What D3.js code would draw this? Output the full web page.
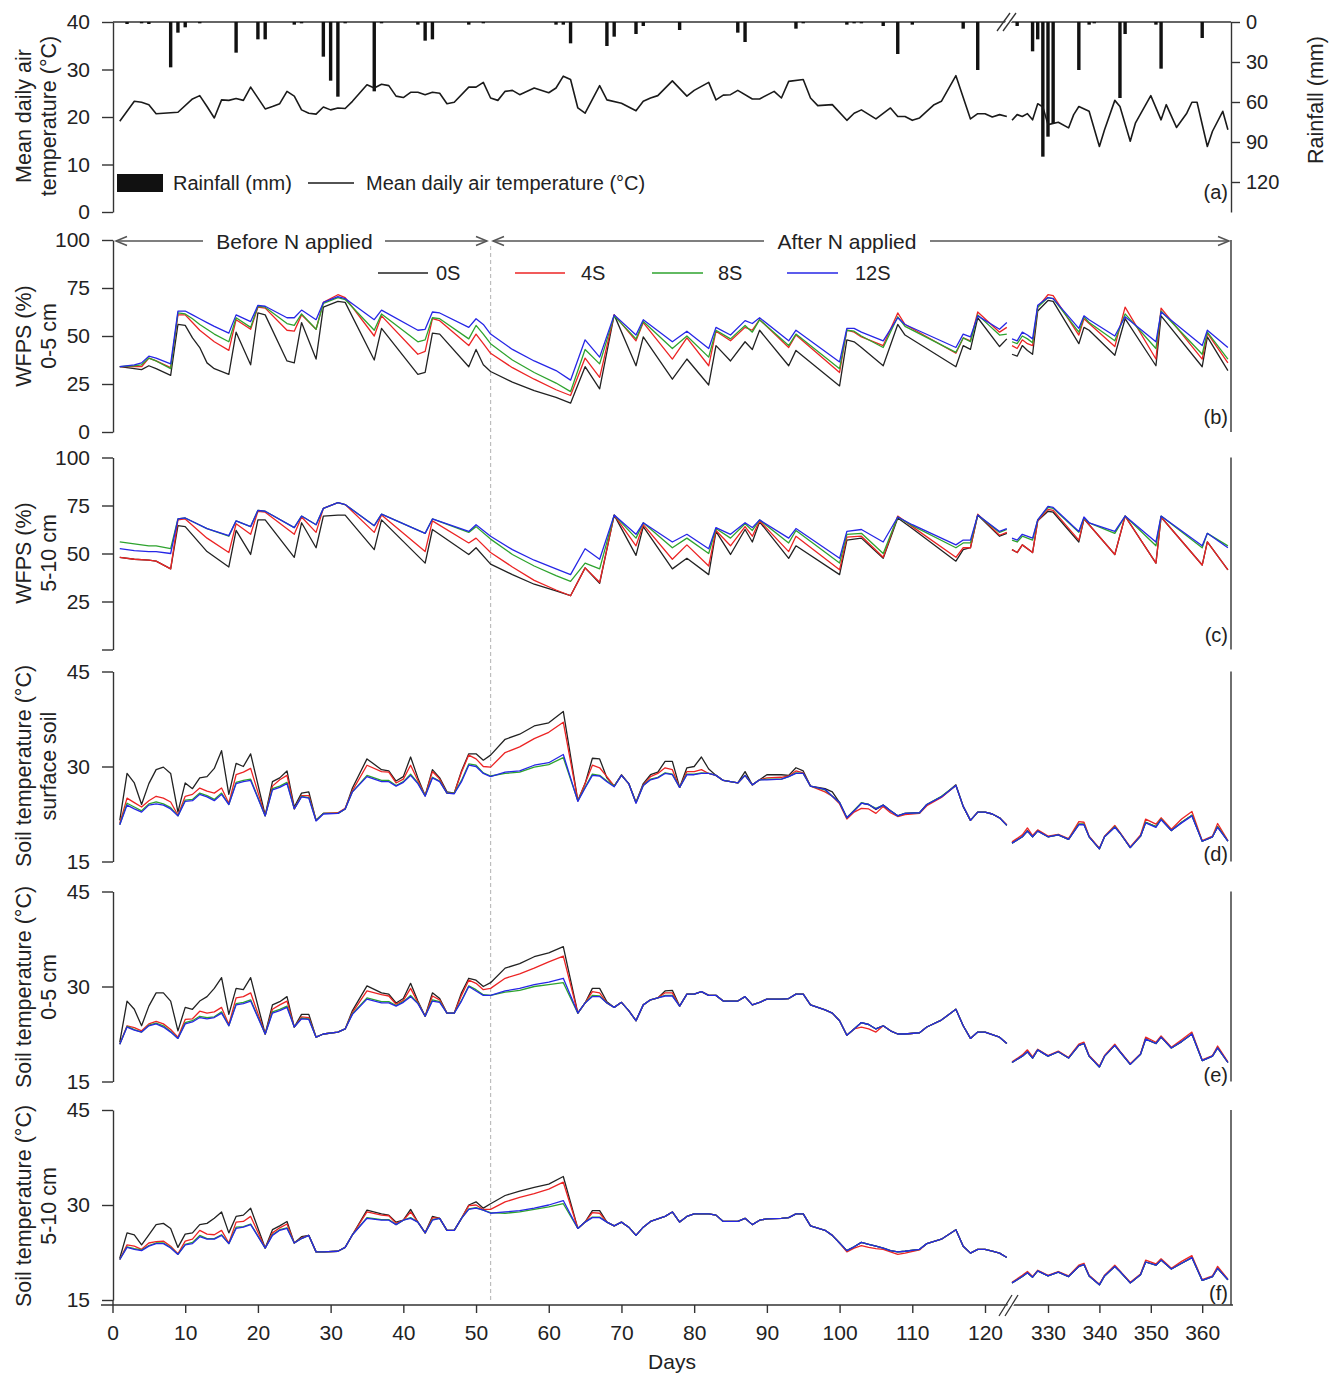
<!DOCTYPE html>
<html><head><meta charset="utf-8">
<script src="https://cdn.jsdelivr.net/npm/d3@7"></script>
<style>body{margin:0;background:#fff}</style>
</head><body>
<svg id="c" width="1338" height="1376" xmlns="http://www.w3.org/2000/svg"></svg>
<script>
// ---------------- DATA ----------------
const seriesNames = ["0S","4S","8S","12S"];
const seriesColors = ["#222222","#ec2424","#2ea32e","#2626e6"];
const dayTicksLeft = [0,10,20,30,40,50,60,70,80,90,100,110,120];
const dayTicksRight = [330,340,350,360];
const airTicks = [0,10,20,30,40];
const rainTicks = [0,30,60,90,120];
const wfpsTicks = [0,25,50,75,100];
const soilTicks = [15,30,45];

// [day, mean daily air temperature °C]
const airTemp = [[1,19.1],[3,23.3],[4,23.1],[5,22.6],[6,20.7],[7,20.8],[9,21],[11,23.8],[12,24.5],[13,22.2],[14,19.8],[15,23.6],[16,23.5],[17,23.9],[18,23.5],[19,26.3],[21,21.7],[22,22.2],[23,22.8],[24,25.4],[25,24.4],[26,21.5],[27,20.8],[28,20.6],[29,22.1],[30,21.5],[31,21.9],[32,21.8],[33,23.3],[35,26.8],[36,26.1],[37,26.9],[38,26.6],[39,24.4],[40,24.1],[41,25.2],[42,25.2],[43,24.7],[44,25.2],[45,25],[46,22.8],[47,23.1],[49,26.3],[50,26.3],[51,27.3],[52,24],[53,23.5],[54,25.4],[55,25.6],[56,24.7],[58,26.1],[60,25.1],[61,26.1],[62,28.6],[63,27.9],[64,21.9],[65,20.8],[67,26.6],[68,23.6],[70,22.9],[72,21.3],[73,23.3],[74,24],[75,24.5],[77,27.6],[79,24.4],[80,25.6],[82,27.3],[83,23.6],[84,24.6],[85,24.7],[86,25.6],[88,23.8],[89,23.8],[91,25.4],[92,24],[93,27.5],[95,27.9],[96,24],[97,22.4],[99,22.6],[101,19.3],[102,20.8],[103,21.5],[105,19.6],[107,21.9],[108,20.1],[109,20.1],[110,19.3],[111,19.8],[113,22.6],[114,23.3],[116,28.7],[118,19.6],[119,20.7],[120,20.7],[121,20],[122,20.5],[123,20.1],
 [323,19.3],[324,20.5],[325,20.1],[326,20.7],[327,19.4],[328,22.8],[329,22.1],[330,18.4],[332,18.9],[334,17.7],[335,20.5],[336,22.2],[338,21.2],[340,13.8],[341,17.3],[343,23.5],[344,22.2],[346,14.9],[347,18.7],[350,24.5],[352,19.4],[353,22.6],[355,17.8],[357,20.8],[358,23.1],[359,23.1],[361,13.8],[362,17],[364,21.2],[365,17.3]];

// [day, rainfall mm]
const rainfall = [[2,1.5],[4,1],[5,1.5],[8,34],[9,8],[10,4],[12,1],[17,23],[20,13],[21,13],[25,2],[26,1],[29,26],[30,44],[31,56],[32,1],[36,52],[37,1],[42,2],[43,14],[44,13],[49,2],[51,1],[61,2],[62,2],[63,16],[68,18],[69,11],[72,9],[73,3],[78,6],[86,8],[87,15],[94,5],[95,1],[101,2],[102,1],[103,1],[106,3],[108,24],[110,2],[117,5],[119,36],
 [324,3],[327,22],[328,13],[329,101],[330,86],[331,76],[336,36],[338,2],[339,1],[344,57],[345,9],[351,2],[352,35],[360,12]];

// rows: [day, 0S, 4S, 8S, 12S]
const wfps05 = [[1,34,34,34,34],[3,33,34,34.5,35],[4,32.5,34,35,36],[5,34.5,38.5,38.5,39.5],[6,33,37,37,38.5],[8,29.5,33.5,33,35.5],[9,56,61,62,63],[10,55.5,61,61.5,63],[11,49,57,59,61],[12,44,53,56,59],[13,36,50,53.5,57],[14,33,47,51,55],[16,30,42.5,47,51.5],[17,52,58.5,59.5,61],[19,35,53.5,54.5,57.5],[20,62,65,65.5,66],[21,61,64.5,65,65.5],[24,37,53,56.5,59.5],[25,36,52.5,55.5,59.5],[26,57,61,61.5,63.5],[28,38,53.5,53.5,58.5],[29,65,67.5,67,67.5],[31,68,71.5,70,70.5],[32,67.5,70,69,69.5],[36,37.5,50,53,58.5],[37,54,60.5,61.5,63.5],[42,30,40.5,47,53],[43,31,42,48,53.5],[44,51.5,59,59.5,62.5],[45,51,58,59,62],[49,34,45,48.5,54.5],[50,43,51,55.5,59],[51,35,46,51,56],[52,31.5,41,46,51],[55,26,33.5,37.5,43],[58,21.5,27.5,31,37],[61,18,22,25.5,32],[63,15,19,21,27],[65,34,38.5,43,48],[67,22.5,28.5,35.5,39],[69,61,61,60.5,61],[72,34.5,47.5,48.5,50.5],[73,49.5,57,57.5,58.5],[77,27.5,38,43.5,47],[79,38,49,50,52.5],[82,24.5,34.5,39,43.5],[83,45,52.5,53,54.5],[85,37,47.5,48.5,50.5],[87,47,54.5,55.5,58],[88,43,53,52,56.5],[89,53,58.5,58.5,59.5],[93,34.5,44,45,47.5],[94,42.5,50.5,51,53],[100,24,31,33,36.5],[101,48,53,53,54],[102,47,52,52.5,54],[103,44,49.5,50,52],[106,34.5,45,44,47.5],[108,56,62,60,59.5],[109,50.5,56,55,56],[116,34,41,41.5,44],[117,45,49,49,51],[118,43,47.5,47,49.5],[119,59.5,62.5,61,60.5],[122,44.5,52,50.5,53.5],[123,48.5,54.5,51,57],
 [323,40.5,45,47,48.5],[324,39.5,43.5,46,47.5],[325,45,48,50,52],[326,42.5,46,48.5,50.5],[327,40.5,45,46.5,48.5],[328,63,65,65,66],[330,68.5,71.5,70,70],[331,68,71,69.5,69.5],[336,46,50.5,52,54],[337,54.5,59,60,60.5],[338,53,56.5,57,58.5],[343,40,44.5,47.5,50],[345,59,65,61.5,60],[351,34.5,38,43.5,47],[352,60.5,64.5,63,62.5],[360,34,38,40.5,45],[361,49.5,51.5,52,53],[365,32,36,38,44]];

const wfps510 = [[1,48,48,56,52.5],[3,47,47,55,51.5],[5,46.5,46.5,54,51],[6,46,46,54,51],[8,42,42,52.5,50],[9,64.5,67.5,68,68],[10,64,68,68.5,68.5],[13,51,58,63,63],[16,43,50.5,59,59.3],[17,62,65.5,67,67],[19,49.5,60,64,64],[20,67.5,72,72.5,72.5],[21,67.5,71.5,72,72],[25,48,60,63.5,63.5],[26,66,69,69.5,69.5],[28,53,61,65,65],[29,69.5,73.5,73.5,73.5],[31,70,76.5,76.5,76.5],[32,70,75.5,75.5,75.5],[36,52,61,64.5,64.5],[37,67.5,70,70.5,70.5],[43,45,51,60.5,60.5],[44,62.5,67,68,68],[49,49.5,55.5,61,61.5],[50,53,58,64,65],[52,44.5,50.5,57.5,59],[55,39,43,49.5,52],[58,34,36,43.5,46.5],[61,30.5,31,38.5,42],[63,28,28,35.5,39],[65,42.5,42.5,45,52.5],[67,34.5,35,42,47],[69,70,70,70,70],[72,49,54,58,60],[73,64,65,66,66],[77,42,47,53,56],[79,47.5,54.5,58,60],[82,39,43.5,50,52.5],[83,61.5,62,63,63.5],[85,49.5,54,58,60],[87,62.5,64,65.5,66],[88,56,59,62,63.5],[89,66.5,67,67.5,67.5],[93,47.5,51,55.5,58],[94,54,59,62,63],[100,39,41.5,45,47.5],[101,57,58.5,60,61.5],[103,58,59,60.5,62.5],[106,47.5,48,50,56],[108,68.5,69.5,69,69],[110,63,64,64.5,65],[116,46,48,53,54.5],[117,52,53,55.5,57],[118,53,53,55.5,57],[119,70,70.5,70,70],[122,59,59.5,61,61.5],[123,60.5,61,62.5,63],
 [323,52,52,57,58],[324,50.5,50.5,56,57],[325,54.5,54.5,59,60],[327,50.5,50.5,57,58],[328,67,67,67.5,67.5],[330,72,73,74,74.5],[331,71.5,72.5,73.5,74],[336,56,57,61,61.5],[337,68,68,68.5,69],[338,65,65,66,66],[343,49.5,49.5,60.5,61.5],[345,69.5,69.5,69.5,69.5],[351,45,45,54,56],[352,69,69,69.5,69.5],[360,44,44,53,54],[361,56,56,60.5,60.5],[365,41.5,41.5,54,53]];

const soilSurface = [[1,21.5,21,20.8,20.8],[2,28.9,25,24.2,23.9],[3,27.4,24.3,23.6,23.3],[4,24,23.6,23,22.8],[5,27.3,24.6,24.1,23.9],[6,29.5,25.3,24.4,24.1],[7,29.9,25,24.1,23.9],[8,28.9,24.4,23.5,23.3],[9,22.8,22.3,22.2,22.2],[10,27.4,25.3,24.7,24.5],[11,26.5,25.6,24.8,24.6],[12,28.2,26.6,25.8,25.6],[13,28.4,26.1,25.4,25.2],[14,29.7,25.8,24.8,24.6],[15,32.5,26.6,25.8,25.6],[16,25.6,24.2,24,24],[17,30.5,28.7,27.5,27.3],[18,30,29.1,27.8,27.6],[19,32,29.7,28,27.8],[21,22.3,22.2,22.2,22.2],[22,27.6,26.9,26.5,26.3],[23,28.2,27.9,26.9,26.7],[24,29.3,28.6,27.5,27.3],[25,23.6,23.3,23.3,23.3],[26,25.8,25.4,25.3,25.2],[27,26,25.4,25.1,25],[28,21.5,21.5,21.5,21.4],[29,22.6,22.6,22.6,22.5],[31,22.6,22.7,22.6,22.6],[32,23.3,23.4,23.3,23.3],[33,26.6,26.2,26,26],[35,31.2,30.2,28.6,28.4],[37,29.5,29.2,27.8,27.6],[38,29.3,29.1,27.8,27.6],[39,27.7,27.4,27,26.9],[40,28.4,28,27.6,27.5],[41,31.5,30.2,28.8,28.6],[42,28.2,27.8,27.4,27.3],[43,25.4,25.4,25.4,25.3],[44,29.5,29.2,28.3,28.2],[45,28.2,28,27.7,27.6],[46,26,25.8,25.8,25.8],[47,25.8,25.8,25.8,25.7],[48,29.3,29.1,27.8,27.6],[49,32,31.8,30.4,30.2],[50,32,31.2,30.2,30],[51,31,30,29,28.9],[52,31.8,29.9,28.5,28.4],[54,34.3,32.2,28.9,29.1],[56,35.1,33.1,29.1,29.3],[58,36.4,34.4,29.9,30.2],[60,36.9,35.4,30.3,30.6],[62,38.7,37,31.4,31.9],[64,24.6,24.6,24.6,24.5],[65,27.3,27.3,26.7,26.6],[66,31.3,30.2,28.8,28.6],[67,31.2,29.8,28.6,28.5],[68,28.2,28.4,27.7,27.6],[69,26.9,26.9,26.9,26.8],[70,28.7,28.6,28.6,28.6],[71,27.3,27.3,27.3,27.3],[72,24.3,24.3,24.3,24.2],[73,27.3,27.1,27,27],[74,28.7,28.4,28,27.9],[75,29.1,28.9,28.3,28.2],[76,30.8,29.8,29,28.9],[77,30.8,29.5,28.8,28.7],[78,26.7,26.7,26.7,26.7],[79,29.8,29.2,28.8,28.7],[80,30,29.2,28.8,28.7],[81,31.5,29.5,29,28.9],[82,29.6,28.9,28.9,28.9],[83,28.6,28.6,28.6,28.6],[84,27.8,27.8,27.8,27.8],[86,27.4,27.4,27.4,27.4],[87,29.2,28.6,28.6,28.6],[88,27.1,27.1,27.1,27.1],[89,27.9,27.9,27.9,27.9],[90,28.7,28.2,28,27.9],[92,28.7,28.3,28,28],[93,28.6,28.5,28.4,28.4],[94,29.8,29.3,29,28.9],[95,29.3,29,28.9,28.9],[96,26.9,26.9,26.9,26.9],[98,26.5,26,26.3,26.4],[99,26,25.3,25.3,25.3],[100,24.3,24.1,24.3,24.3],[101,21.9,21.7,21.9,21.9],[102,23,22.8,23.1,23],[103,24.2,23.4,24.3,24.2],[104,24,23.3,24,24],[105,23.2,22.6,23.4,23.3],[106,23.9,23.7,23.9,23.9],[107,23,22.7,23,23],[108,22.2,22.1,22.2,22.2],[109,22.6,22.4,22.6,22.6],[111,22.7,22.6,22.7,22.7],[112,24,23.8,24,24],[114,25.2,25.1,25.3,25.2],[116,27.1,27,27,27],[117,23.7,23.7,23.7,23.7],[118,21.5,21.5,21.5,21.5],[119,22.8,22.8,22.8,22.8],[120,22.8,22.8,22.8,22.8],[121,22.5,22.5,22.5,22.5],[122,21.9,21.9,21.9,21.9],[123,20.7,20.8,20.7,20.7],
 [323,17.9,18.1,17.9,17.9],[325,18.9,19.2,18.9,18.9],[326,19.9,20.3,19.8,19.8],[327,18.9,19.1,18.9,18.9],[328,19.9,20,19.8,19.8],[330,18.9,19,18.9,18.9],[332,19.2,19.3,19.2,19.2],[334,18.5,18.6,18.5,18.5],[336,20.9,21.3,20.9,20.8],[337,20.9,21.2,20.9,20.8],[338,18.9,19,18.9,18.9],[340,17,17.1,17,17],[341,18.9,19,18.9,18.9],[343,20.5,20.7,20.5,20.4],[344,19.5,19.6,19.5,19.5],[346,17.2,17.3,17.2,17.2],[348,19,19.2,19,19],[349,21.2,21.7,21.2,21.1],[351,20.5,20.9,20.5,20.4],[352,21.7,21.9,21.7,21.6],[354,19.9,20.1,19.9,19.9],[356,21.2,21.7,21.2,21.1],[358,22.3,22.9,22.3,22.2],[360,18.2,18.3,18.2,18.2],[362,18.9,19,18.9,18.9],[363,20.5,21,20.5,20.4],[365,18.2,18.3,18.2,18.2]];

const soil05 = [[1,21.2,20.9,20.9,20.9],[2,27.7,23.8,23.7,23.6],[3,26.4,23.5,23.2,23.1],[4,23.8,23,22.8,22.8],[5,26.9,24.1,23.9,23.8],[6,29,24.5,24.2,24.1],[7,29,24.1,23.8,23.6],[8,27.7,23.2,22.9,22.8],[9,23,22,21.8,21.8],[10,26.7,24.8,24.3,24.1],[11,26.4,24.9,24.6,24.4],[12,27.7,26.1,25.3,25.1],[13,28.4,25.8,25.1,24.9],[14,29.7,26,25.2,25.1],[15,31.4,26.7,26,25.8],[16,25.6,24,23.8,23.8],[17,29.7,28.2,27.3,27.1],[18,29.5,28.4,27.5,27.3],[19,31.4,29,27.9,27.7],[21,22.5,22.5,22.5,22.5],[22,27.1,26.4,26,25.8],[23,27.6,27.1,26.4,26.2],[24,28.4,27.7,26.9,26.7],[25,23.6,23.6,23.6,23.6],[26,25.6,25.2,25,24.9],[27,25.6,25.1,24.9,24.8],[28,22,22,22,22],[29,22.5,22.5,22.5,22.5],[31,22.8,22.8,22.8,22.8],[32,23.3,23.3,23.3,23.3],[33,26.2,25.9,25.7,25.6],[35,30.1,29.3,28.2,28],[37,29,28.7,27.6,27.4],[38,28.8,28.5,27.6,27.4],[39,27.4,27.2,27,26.9],[40,28.1,27.8,27.6,27.5],[41,30.5,29.7,28.6,28.4],[42,27.7,27.5,27.4,27.3],[43,25.3,25.3,25.3,25.3],[44,29,28.5,27.9,27.7],[45,28.1,27.9,27.6,27.5],[46,25.8,25.8,25.8,25.8],[47,25.8,25.8,25.8,25.8],[48,29,28.6,27.8,27.7],[49,31.3,31,30.1,30],[50,31,30.5,29.5,29.3],[51,30,29.5,28.7,28.6],[52,30.6,29.7,28.6,28.6],[54,32.9,31.3,29.1,29.3],[56,33.6,32,29.4,29.7],[58,34.7,32.9,30,30.3],[60,35.3,33.9,30.3,30.7],[62,36.3,34.8,30.6,31.3],[64,25.8,25.8,25.8,25.8],[65,27.4,27.4,27.4,27.4],[66,29.7,29.2,28.6,28.4],[67,29.7,29,28.5,28.4],[68,27.6,27.4,27.4,27.4],[69,26.7,26.7,26.7,26.7],[70,27.5,27.5,27.5,27.5],[71,26.2,26.2,26.2,26.2],[72,24.6,24.6,24.6,24.6],[73,27.1,27.1,27.1,27.1],[74,27.9,27.9,27.9,27.9],[75,28.2,28.2,28.2,28.2],[76,29.3,29,28.6,28.5],[77,29.4,29,28.6,28.5],[78,26.9,26.9,26.9,26.9],[79,28.8,28.8,28.8,28.8],[80,28.8,28.8,28.8,28.8],[81,29.2,29.2,29.2,29.2],[82,28.6,28.6,28.6,28.6],[83,28.6,28.6,28.6,28.6],[84,27.7,27.7,27.7,27.7],[86,27.7,27.7,27.7,27.7],[87,28.4,28.4,28.4,28.4],[88,27.1,27.1,27.1,27.1],[89,27.5,27.5,27.5,27.5],[90,28,28,28,28],[92,28,28,28,28],[93,28.1,28.1,28.1,28.1],[94,28.8,28.8,28.8,28.8],[95,28.8,28.8,28.8,28.8],[96,27.1,27.1,27.1,27.1],[98,26.3,26.3,26.3,26.3],[99,25.8,25.8,25.8,25.8],[100,24.6,24.6,24.6,24.6],[101,22.3,22.3,22.3,22.3],[102,23.3,23.3,23.3,23.3],[103,24.3,23.6,24.3,24.3],[104,24,23.3,24,24],[105,23.3,22.8,23.3,23.3],[106,23.8,23.8,23.8,23.8],[107,23,23,23,23],[108,22.5,22.5,22.5,22.5],[109,22.5,22.5,22.5,22.5],[111,22.7,22.7,22.7,22.7],[112,23.6,23.6,23.6,23.6],[114,24.7,24.7,24.7,24.7],[116,26.4,26.4,26.4,26.4],[117,23.8,23.8,23.8,23.8],[118,21.8,21.8,21.8,21.8],[119,22.8,22.8,22.8,22.8],[120,22.8,22.8,22.8,22.8],[121,22.4,22.4,22.4,22.4],[122,22,22,22,22],[123,21,21,21,21],
 [323,18,18.1,18,18],[325,19,19.2,19,19],[326,19.7,20,19.7,19.7],[327,18.7,18.9,18.7,18.7],[328,20,20.1,20,20],[330,19,19.1,19,19],[332,19.7,19.8,19.7,19.7],[334,18.7,18.8,18.7,18.7],[336,20.7,20.9,20.7,20.7],[337,21,21.2,21,21],[338,19,19.1,19,19],[340,17.3,17.4,17.3,17.3],[341,19,19.1,19,19],[343,20.7,20.9,20.7,20.7],[344,19.7,19.8,19.7,19.7],[346,17.7,17.8,17.7,17.7],[348,19.3,19.4,19.3,19.3],[349,21.7,22,21.7,21.7],[351,21,21.2,21,21],[352,22,22.2,22,22],[354,20.3,20.4,20.3,20.3],[356,21.3,21.6,21.3,21.3],[358,22.5,22.8,22.5,22.5],[360,18.3,18.4,18.3,18.3],[362,19,19.1,19,19],[363,20.3,20.6,20.3,20.3],[365,18,18.1,18,18]];

const soil510 = [[1,21.6,21.4,21.4,21.4],[2,25.6,23.7,23.4,23.3],[3,25.3,23.5,23.1,23],[4,23.7,23,22.9,22.8],[5,25.3,24,23.6,23.5],[6,26.9,24.2,24,23.9],[7,27.1,24.3,24,23.9],[8,26.3,23.5,23.3,23.2],[9,23.3,22.3,22.2,22.2],[10,25.4,24.3,23.8,23.7],[11,25.6,24.6,24.1,23.9],[12,26.9,26,25.2,25],[13,27.1,25.4,24.7,24.6],[14,27.9,25.3,24.7,24.6],[15,28.9,26,25.3,25.2],[16,25.6,24,23.9,23.9],[17,28.2,27.3,26.5,26.3],[18,28.4,27.4,26.6,26.5],[19,29.5,28.2,27,26.9],[21,23.2,23.2,23.2,23.2],[22,26.1,25.6,25.3,25.2],[23,26.7,26.4,26.1,26],[24,27.4,27,26.4,26.3],[25,24,24,24,24],[26,25,24.8,24.7,24.7],[27,25.2,25.2,25.2,25.2],[28,22.6,22.6,22.6,22.6],[29,22.6,22.6,22.6,22.6],[31,22.7,22.7,22.7,22.7],[32,23.3,23.3,23.3,23.3],[33,25.3,25.3,25.3,25.3],[35,29.2,28.9,28,27.9],[37,28.6,28.4,27.7,27.6],[38,28.4,28.3,27.7,27.6],[39,27.3,27.1,26.9,26.9],[40,27.6,27.6,27.6,27.6],[41,29.3,28.9,28,27.9],[42,27.3,27.3,27.3,27.3],[43,25.6,25.6,25.6,25.6],[44,28.2,28,27.7,27.6],[45,27.9,27.9,27.9,27.9],[46,26,26,26,26],[47,26,26,26,26],[48,27.9,27.9,27.9,27.9],[49,30,29.9,29.4,29.3],[50,30.5,30,29.6,29.5],[51,29.5,29.3,29.2,29.2],[52,30.2,29.3,28.8,28.7],[54,31.5,30.5,28.7,28.9],[56,32.2,31.2,28.9,29.1],[58,32.8,31.8,29.3,29.5],[60,33.3,32.5,29.7,30],[62,34.5,33.6,30.2,30.7],[64,26.3,26.3,26.3,26.3],[65,27.3,27.3,27.3,27.3],[66,29.1,28.8,28.1,28],[67,29.1,28.7,28.1,28],[68,27.3,27.3,27.3,27.3],[69,26.7,26.7,26.7,26.7],[70,27.3,27.3,27.3,27.3],[71,26.5,26.5,26.5,26.5],[72,25.2,25.2,25.2,25.2],[73,26.5,26.5,26.5,26.5],[74,27.4,27.4,27.4,27.4],[75,27.8,27.8,27.8,27.8],[76,28.2,28.2,28.2,28.2],[77,28.9,28.9,28.9,28.9],[78,27.3,27.3,27.3,27.3],[79,28.2,28.2,28.2,28.2],[80,28.6,28.6,28.6,28.6],[81,28.6,28.6,28.6,28.6],[82,28.6,28.6,28.6,28.6],[83,28.4,28.4,28.4,28.4],[84,27.4,27.4,27.4,27.4],[86,27.4,27.4,27.4,27.4],[87,27.9,27.9,27.9,27.9],[88,26.9,26.9,26.9,26.9],[89,27.6,27.6,27.6,27.6],[90,27.8,27.8,27.8,27.8],[92,27.9,27.9,27.9,27.9],[93,28,28,28,28],[94,28.6,28.6,28.6,28.6],[95,28.6,28.6,28.6,28.6],[96,26.7,26.7,26.7,26.7],[98,26,26,26,26],[99,25.2,25.2,25.2,25.2],[100,24,24,24,24],[101,22.8,22.6,22.8,22.8],[102,23.4,23.2,23.4,23.4],[103,24.1,23.6,24.1,24.1],[104,23.8,23.3,23.8,23.8],[105,23.5,23.1,23.5,23.5],[106,23.2,23,23.2,23.2],[107,22.8,22.6,22.8,22.8],[108,22.6,22.2,22.6,22.6],[109,22.7,22.4,22.7,22.7],[111,23,22.9,23,23],[112,23.9,23.9,23.9,23.9],[114,24.6,24.6,24.6,24.6],[116,26.1,26.1,26.1,26.1],[117,23.5,23.5,23.5,23.5],[118,22.4,22.4,22.4,22.4],[119,23,23,23,23],[120,23,23,23,23],[121,22.7,22.7,22.7,22.7],[122,22.4,22.4,22.4,22.4],[123,21.7,21.7,21.7,21.7],
 [323,17.7,17.8,17.7,17.7],[325,18.7,18.9,18.7,18.7],[326,19.3,19.5,19.3,19.3],[327,18.6,18.7,18.6,18.6],[328,19.6,19.7,19.6,19.6],[330,18.8,18.9,18.8,18.8],[332,19.4,19.5,19.4,19.4],[334,18.7,18.8,18.7,18.7],[336,20.3,20.5,20.3,20.3],[337,20.6,20.8,20.6,20.6],[338,18.8,18.9,18.8,18.8],[340,17.4,17.5,17.4,17.4],[341,18.8,18.9,18.8,18.8],[343,20.3,20.5,20.3,20.3],[344,19.5,19.6,19.5,19.5],[346,17.7,17.8,17.7,17.7],[348,19,19.1,19,19],[349,21,21.3,21,21],[351,20.5,20.7,20.5,20.5],[352,21.3,21.5,21.3,21.3],[354,19.9,20,19.9,19.9],[356,20.8,21.1,20.8,20.8],[358,21.7,22,21.7,21.7],[360,18.1,18.2,18.1,18.1],[362,18.7,18.8,18.7,18.7],[363,20,20.3,20,20],[365,18.2,18.3,18.2,18.2]];

// ---------------- DRAW ----------------
const FONT = '"Liberation Sans", Arial, Helvetica, sans-serif';
const svg = d3.select("#c");
const AXL = 113, AXR = 1231, XAXIS_Y = 1305;
const xL = d3.scaleLinear().domain([0,120]).range([112.5,985]);
const xR = d3.scaleLinear().domain([330,360]).range([1048,1202.2]);
const X = d => d < 200 ? xL(d) : xR(d);

function styleAxis(g, fs){
  g.attr("font-family", FONT).attr("font-size", fs || 21).attr("color", "#222");
  g.selectAll("path,line").attr("stroke", "#333").attr("stroke-width", 1.4);
}
function vtitle(lines, cy){
  const xs = lines.length === 2 ? [24, 49] : [36];
  lines.forEach((t,i) => {
    svg.append("text").attr("transform", `translate(${xs[i]},${cy}) rotate(-90)`)
      .attr("text-anchor","middle").attr("dominant-baseline","central")
      .attr("font-family",FONT).attr("font-size",21.5).attr("fill","#222").text(t);
  });
}
function tag(t, y){
  svg.append("text").attr("x", AXR-3).attr("y", y).attr("text-anchor","end")
    .attr("font-family",FONT).attr("font-size",20).attr("fill","#222").text(t);
}
function seg(rows){ return [rows.filter(r=>r[0]<200), rows.filter(r=>r[0]>200)]; }

// ---- Panel (a)
const yA = d3.scaleLinear().domain([0,40]).range([212,22]);
const rainY = d3.scaleLinear().domain([0,142.5]).range([22,212]);
const gA = svg.append("g").attr("transform",`translate(${AXL},0)`)
  .call(d3.axisLeft(yA).tickValues(airTicks).tickSize(11).tickSizeOuter(0).tickPadding(12));
styleAxis(gA);
const gAR = svg.append("g").attr("transform",`translate(${AXR},0)`)
  .call(d3.axisRight(rainY).tickValues(rainTicks).tickSize(9).tickSizeOuter(0).tickPadding(6));
styleAxis(gAR, 20);
svg.append("line").attr("x1",AXL).attr("x2",AXR).attr("y1",22).attr("y2",22).attr("stroke","#333").attr("stroke-width",1.4);
// rainfall bars
svg.append("g").selectAll("rect").data(rainfall).join("rect")
  .attr("x", r => X(r[0]) - 1.7).attr("y", rainY(0)).attr("width", 3.4)
  .attr("height", r => rainY(r[1]) - rainY(0)).attr("fill", "#111");
// air temperature line
const lineA = d3.line().x(r => X(r[0])).y(r => yA(r[1]));
seg(airTemp).forEach(s => svg.append("path").attr("d", lineA(s)).attr("fill","none")
  .attr("stroke","#1a1a1a").attr("stroke-width",1.6).attr("stroke-linejoin","round"));
// break marks on top line
svg.append("polygon").attr("points","999,31 1005,31 1018,13 1012,13").attr("fill","#fff").attr("stroke","none");
[0,6].forEach(dx => svg.append("line").attr("x1",997+dx).attr("y1",31).attr("x2",1010+dx).attr("y2",13)
  .attr("stroke","#333").attr("stroke-width",1.3));
// legend (a)
svg.append("rect").attr("x",117).attr("y",174).attr("width",46).attr("height",18).attr("fill","#111");
svg.append("text").attr("x",173).attr("y",190).attr("font-family",FONT).attr("font-size",20).attr("fill","#222").text("Rainfall (mm)");
svg.append("line").attr("x1",308).attr("x2",354).attr("y1",183).attr("y2",183).attr("stroke","#1a1a1a").attr("stroke-width",1.6);
svg.append("text").attr("x",366).attr("y",190).attr("font-family",FONT).attr("font-size",20).attr("fill","#222").text("Mean daily air temperature (°C)");
vtitle(["Mean daily air","temperature (°C)"], 116);
svg.append("text").attr("transform","translate(1316,100) rotate(-90)").attr("text-anchor","middle")
  .attr("dominant-baseline","central").attr("font-family",FONT).attr("font-size",21.5).attr("fill","#222").text("Rainfall (mm)");
tag("(a)", 199);

// ---- Panels (b)-(f)
const panels = [
  {rows: wfps05, y: d3.scaleLinear().domain([0,100]).range([432,240]), ticks: wfpsTicks, hideZero:false, title:["WFPS (%)","0-5 cm"], cy:336, tag:"(b)", tagY:424, bottom:432},
  {rows: wfps510, y: d3.scaleLinear().domain([0,100]).range([649.5,457.5]), ticks: wfpsTicks, hideZero:true, title:["WFPS (%)","5-10 cm"], cy:553, tag:"(c)", tagY:642, bottom:649.5},
  {rows: soilSurface, y: d3.scaleLinear().domain([15,45]).range([861.5,671.5]), ticks: soilTicks, title:["Soil temperature (°C)","surface soil"], cy:766, tag:"(d)", tagY:861, bottom:861.5},
  {rows: soil05, y: d3.scaleLinear().domain([15,45]).range([1081.5,891.5]), ticks: soilTicks, title:["Soil temperature (°C)","0-5 cm"], cy:987, tag:"(e)", tagY:1082, bottom:1081.5},
  {rows: soil510, y: d3.scaleLinear().domain([15,45]).range([1300,1110]), ticks: soilTicks, title:["Soil temperature (°C)","5-10 cm"], cy:1206, tag:"(f)", tagY:1300, bottom:XAXIS_Y}
];

// dashed divider (N application, day 52)
svg.append("line").attr("x1",xL(52)).attr("x2",xL(52)).attr("y1",246).attr("y2",1302)
  .attr("stroke","#bdbdbd").attr("stroke-width",1.2).attr("stroke-dasharray","4,3");

panels.forEach(p => {
  const g = svg.append("g").attr("transform",`translate(${AXL},0)`)
    .call(d3.axisLeft(p.y).tickValues(p.ticks).tickSize(11).tickSizeOuter(0).tickPadding(12)
      .tickFormat(v => (p.hideZero && v === 0) ? "" : String(v)));
  styleAxis(g);
  const top = p.y.range()[1];
  svg.append("line").attr("x1",AXL).attr("x2",AXL).attr("y1",p.y.range()[0]).attr("y2",p.bottom).attr("stroke","#333").attr("stroke-width",1.4);
  svg.append("line").attr("x1",AXR).attr("x2",AXR).attr("y1",top).attr("y2",p.bottom).attr("stroke","#333").attr("stroke-width",1.4);
  seriesNames.forEach((n,i) => {
    const ln = d3.line().x(r => X(r[0])).y(r => p.y(r[i+1]));
    seg(p.rows).forEach(s => svg.append("path").attr("d", ln(s)).attr("fill","none")
      .attr("stroke", seriesColors[i]).attr("stroke-width",1.3).attr("stroke-linejoin","round"));
  });
  vtitle(p.title, p.cy);
  tag(p.tag, p.tagY);
});

// arrows "Before / After N applied"
const AY = 241;
function hline(x1,x2){ svg.append("line").attr("x1",x1).attr("x2",x2).attr("y1",AY).attr("y2",AY).attr("stroke","#555").attr("stroke-width",1.5); }
function head(x, dir){
  svg.append("path").attr("d",`M${x-dir*11},${AY-4.5}L${x},${AY}L${x-dir*11},${AY+4.5}`)
    .attr("fill","none").attr("stroke","#555").attr("stroke-width",1.5);
}
hline(116,203); head(116,-1);
hline(385,487); head(487,1);
hline(493,764); head(493,-1);
hline(930,1229); head(1229,1);
svg.append("text").attr("x",294.5).attr("y",AY).attr("dominant-baseline","central").attr("text-anchor","middle")
  .attr("font-family",FONT).attr("font-size",21).attr("fill","#222").text("Before N applied");
svg.append("text").attr("x",847).attr("y",AY).attr("dominant-baseline","central").attr("text-anchor","middle")
  .attr("font-family",FONT).attr("font-size",21).attr("fill","#222").text("After N applied");

// legend (b)
const legX = [[378,428,433],[515,565,578],[652,703,715],[787,838,852]];
seriesNames.forEach((n,i) => {
  const [a,b,t] = legX[i];
  svg.append("line").attr("x1",a).attr("x2",b).attr("y1",273).attr("y2",273).attr("stroke",seriesColors[i]).attr("stroke-width",1.5);
  svg.append("text").attr("x",t+3).attr("y",280).attr("font-family",FONT).attr("font-size",20).attr("fill","#222").text(n);
});

// x axis
svg.append("line").attr("x1",101).attr("x2",AXR+2).attr("y1",XAXIS_Y).attr("y2",XAXIS_Y).attr("stroke","#333").attr("stroke-width",1.4);
[[xL,dayTicksLeft],[xR,dayTicksRight]].forEach(([sc,tv]) => {
  const g = svg.append("g").attr("transform",`translate(0,${XAXIS_Y})`)
    .call(d3.axisBottom(sc).tickValues(tv).tickSize(8).tickSizeOuter(0).tickPadding(12));
  styleAxis(g);
  g.select(".domain").remove();
});
svg.append("polygon").attr("points","1001,1316 1007,1316 1020,1295 1014,1295").attr("fill","#fff");
[0,6].forEach(dx => svg.append("line").attr("x1",999+dx).attr("y1",1316).attr("x2",1012+dx).attr("y2",1295)
  .attr("stroke","#333").attr("stroke-width",1.3));
svg.append("text").attr("x",672).attr("y",1369).attr("text-anchor","middle").attr("font-family",FONT)
  .attr("font-size",21).attr("fill","#222").text("Days");
</script>
</body></html>
